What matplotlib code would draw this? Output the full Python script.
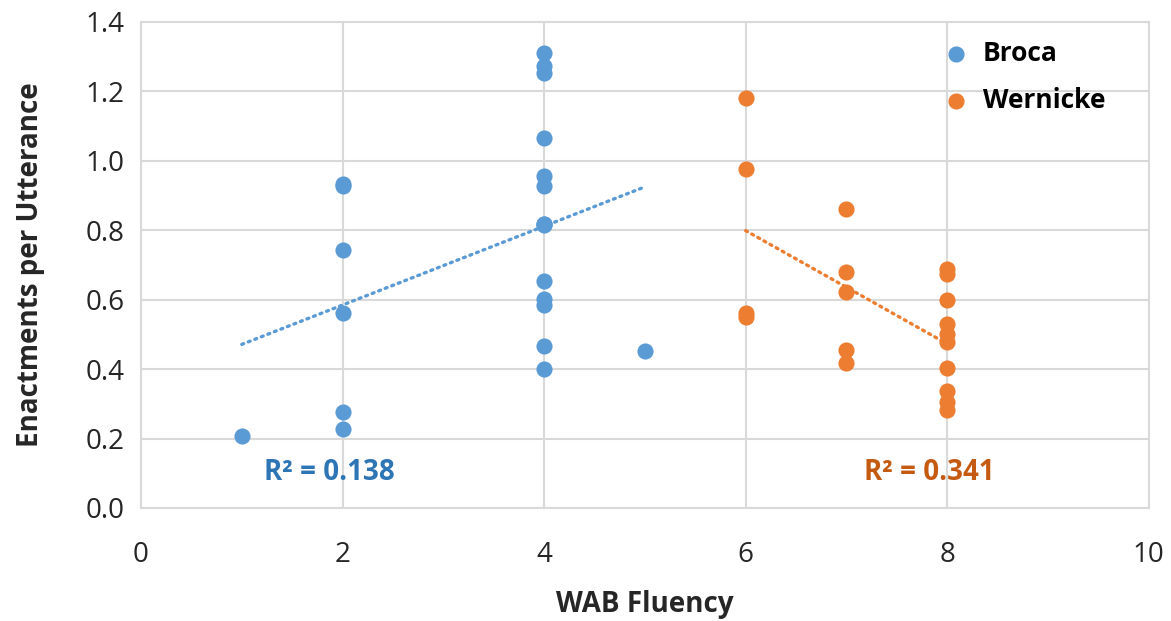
import numpy as np
import matplotlib.pyplot as plt

plt.rcParams['font.family'] = ['Open Sans', 'DejaVu Sans']

# Broca group
broca_x = [1, 2, 2, 2, 2, 2, 2,
           4, 4, 4, 4, 4, 4, 4, 4, 4, 4, 4, 4, 4, 4, 5]
broca_y = [0.207, 0.934, 0.927, 0.742, 0.560, 0.277, 0.226,
           1.311, 1.272, 1.252, 1.065, 0.956, 0.927, 0.817, 0.814,
           0.653, 0.601, 0.584, 0.466, 0.399, 0.817, 0.452]

# Wernicke group
wern_x = [6, 6, 6, 6, 7, 7, 7, 7, 7,
          8, 8, 8, 8, 8, 8, 8, 8, 8, 8]
wern_y = [1.181, 0.975, 0.561, 0.550, 0.861, 0.679, 0.622, 0.454, 0.416,
          0.688, 0.675, 0.598, 0.529, 0.502, 0.478, 0.404, 0.336, 0.305, 0.283]

r2_labels = ['R² = 0.138', 'R² = 0.341']

blue = '#5B9BD5'
orange = '#ED7D31'
dark = '#262626'

fig = plt.figure(figsize=(11.71, 6.21), dpi=100)
ax = fig.add_axes([0.1204, 0.182, 0.8606, 0.783])

ax.scatter(broca_x, broca_y, s=135, color=blue, label='Broca', zorder=3, linewidths=0)
ax.scatter(wern_x, wern_y, s=135, color=orange, label='Wernicke', zorder=3, linewidths=0)

# linear trend lines
for xs, ys, c in [(broca_x, broca_y, blue), (wern_x, wern_y, orange)]:
    m, b = np.polyfit(xs, ys, 1)
    xx = np.array([min(xs), max(xs)])
    ax.plot(xx, m * xx + b, color=c, lw=2.4, ls=(0, (0.6, 1.5)),
            dash_capstyle='round', zorder=2)

ax.text(1.865, 0.103, r2_labels[0], color='#2E75B6', fontsize=20, fontweight='bold',
        ha='center', va='center')
ax.text(7.82, 0.103, r2_labels[1], color='#C55A11', fontsize=20, fontweight='bold',
        ha='center', va='center')

ax.set_xlim(0, 10)
ax.set_ylim(0, 1.4)
ax.set_xticks(np.arange(0, 11, 2))
ax.set_yticks(np.arange(0, 1.41, 0.2))
ax.set_yticklabels([f'{v:.1f}' for v in np.arange(0, 1.41, 0.2)])
ax.grid(True, color='#D9D9D9', lw=1.5)
ax.set_axisbelow(True)
for s in ax.spines.values():
    s.set_color('#D9D9D9')
    s.set_linewidth(1.5)
ax.tick_params(length=0, labelsize=20, colors=dark)
ax.tick_params(axis='x', pad=24)
ax.tick_params(axis='y', pad=12)

ax.set_xlabel('WAB Fluency', fontsize=20, fontweight='bold', color=dark, labelpad=15)
ax.set_ylabel('Enactments per Utterance', fontsize=20, fontweight='bold', color=dark, labelpad=29)

ax.legend(loc='upper right', frameon=False, prop={'weight': 'bold', 'size': 19},
          handletextpad=0.0, labelspacing=0.75, borderaxespad=0.3,
          bbox_to_anchor=(0.975, 1.0))

fig.savefig('out.png', dpi=100)
